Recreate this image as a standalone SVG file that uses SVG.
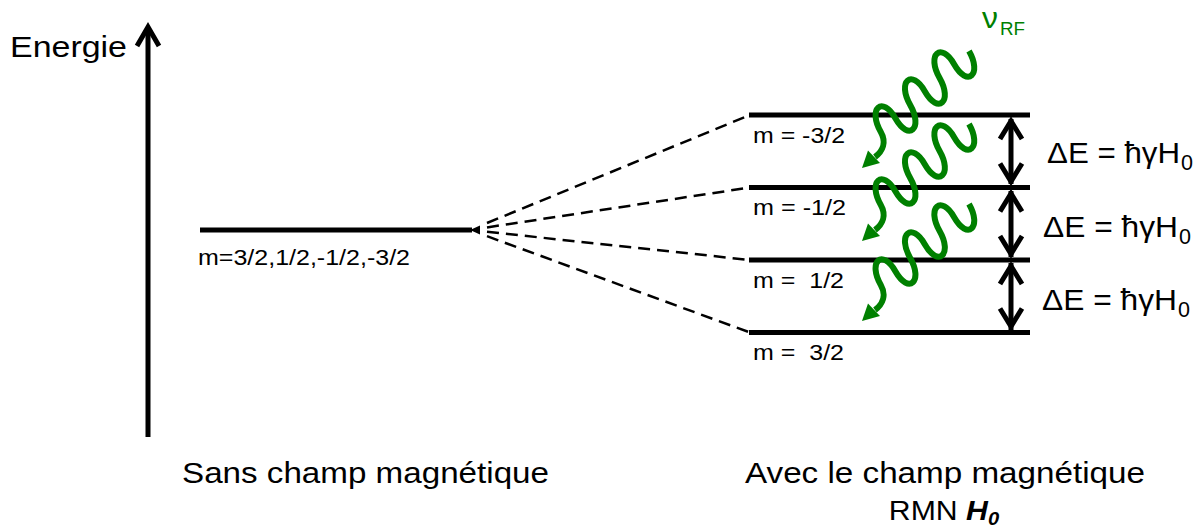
<svg xmlns="http://www.w3.org/2000/svg" width="1198" height="527" viewBox="0 0 1198 527">
<style>
.t{font-family:"Liberation Sans",Arial,sans-serif;fill:#000}
.g{fill:#008000}
.lvl{stroke:#000;stroke-width:5;fill:none}
.dash{stroke:#000;stroke-width:2.5;stroke-dasharray:12 7;fill:none}
.wave{stroke:#008000;stroke-width:6;fill:none}
.chev{stroke:#000;stroke-width:5;fill:none;stroke-linejoin:miter;stroke-miterlimit:10}
</style>
<defs>
<g id="photon">
<path class="wave" d="M969,51 c13.33,23.33 -1.37,36.83 -14.7,13.5 c-13.33,-23.33 -28.03,-9.83 -14.7,13.5 c13.33,23.33 -1.37,36.83 -14.7,13.5 c-13.33,-23.33 -28.03,-9.83 -14.7,13.5 c13.33,23.33 -1.37,36.83 -14.7,13.5 c-13.33,-23.33 -28.03,-9.83 -14.7,13.5 C886.5,142 883,151 875,157"/>
<polygon class="g" points="862,168 880,163 868,150.5"/>
</g>
</defs>
<rect width="1198" height="527" fill="#fff"/>

<g id="axis">
<line class="lvl" x1="148" y1="437" x2="148" y2="28"/>
<polyline class="chev" points="137,46 148,27 159,46"/>
<text class="t" x="10" y="57" font-size="30" textLength="117" lengthAdjust="spacingAndGlyphs">Energie</text>
</g>

<g id="level-degenerate">
<line class="lvl" x1="200" y1="230" x2="472" y2="230"/>
<polygon points="470,230 480,225.5 480,234.5" fill="#000"/>
<text class="t" x="198" y="265" font-size="22" textLength="212" lengthAdjust="spacingAndGlyphs">m=3/2,1/2,-1/2,-3/2</text>
</g>

<g id="level-m-3-2">
<line class="lvl" x1="749" y1="115" x2="1030" y2="115"/>
<text class="t" x="753" y="142.5" font-size="22" textLength="92" lengthAdjust="spacingAndGlyphs" xml:space="preserve">m = -3/2</text>
</g>
<g id="level-m-1-2">
<line class="lvl" x1="749" y1="187.5" x2="1030" y2="187.5"/>
<text class="t" x="753" y="215" font-size="22" textLength="93" lengthAdjust="spacingAndGlyphs" xml:space="preserve">m = -1/2</text>
</g>
<g id="level-m1-2">
<line class="lvl" x1="749" y1="260" x2="1030" y2="260"/>
<text class="t" x="753" y="287.5" font-size="22" textLength="91" lengthAdjust="spacingAndGlyphs" xml:space="preserve">m =  1/2</text>
</g>
<g id="level-m3-2">
<line class="lvl" x1="749" y1="332.5" x2="1030" y2="332.5"/>
<text class="t" x="753" y="359.5" font-size="22" textLength="91" lengthAdjust="spacingAndGlyphs" xml:space="preserve">m =  3/2</text>
</g>

<g id="connectors">
<line class="dash" x1="487" y1="223" x2="750" y2="115"/>
<line class="dash" x1="487" y1="227.4" x2="750" y2="187.5"/>
<line class="dash" x1="487" y1="231.8" x2="750" y2="260"/>
<line class="dash" x1="487" y1="236.2" x2="750" y2="332.5"/>
<line class="lvl" x1="1011" y1="119" x2="1011" y2="184"/>
<polyline class="chev" points="1000,139 1011,121 1022,139"/>
<polyline class="chev" points="1000,163.5 1011,181.5 1022,163.5"/>
<line class="lvl" x1="1011" y1="191" x2="1011" y2="257"/>
<polyline class="chev" points="1000,211.5 1011,193.5 1022,211.5"/>
<polyline class="chev" points="1000,236 1011,254 1022,236"/>
<line class="lvl" x1="1011" y1="263" x2="1011" y2="330"/>
<polyline class="chev" points="1000,284 1011,266 1022,284"/>
<polyline class="chev" points="1000,308.5 1011,326.5 1022,308.5"/>
</g>

<g id="deltaE-1">
<text class="t" x="1047" y="163" font-size="30" textLength="133" lengthAdjust="spacingAndGlyphs">ΔE = ħγH</text>
<text class="t" x="1181" y="170" font-size="22" textLength="12" lengthAdjust="spacingAndGlyphs">0</text>
</g>
<g id="deltaE-2">
<text class="t" x="1043" y="236.5" font-size="30" textLength="135" lengthAdjust="spacingAndGlyphs">ΔE = ħγH</text>
<text class="t" x="1179" y="243.5" font-size="22" textLength="12" lengthAdjust="spacingAndGlyphs">0</text>
</g>
<g id="deltaE-3">
<text class="t" x="1042" y="310" font-size="30" textLength="135" lengthAdjust="spacingAndGlyphs">ΔE = ħγH</text>
<text class="t" x="1178" y="317" font-size="22" textLength="12" lengthAdjust="spacingAndGlyphs">0</text>
</g>

<g id="rf-photons">
<use href="#photon"/>
<use href="#photon" transform="translate(0 73)"/>
<use href="#photon" transform="translate(0 153)"/>
<text class="t g" x="982" y="28" font-size="30" textLength="16" lengthAdjust="spacingAndGlyphs">ν</text>
<text class="t g" x="1000" y="35" font-size="18" textLength="25" lengthAdjust="spacingAndGlyphs">RF</text>
</g>

<g id="caption-left">
<text class="t" x="182" y="483" font-size="29" textLength="367" lengthAdjust="spacingAndGlyphs">Sans champ magnétique</text>
</g>
<g id="caption-right">
<text class="t" x="745" y="483" font-size="29" textLength="400" lengthAdjust="spacingAndGlyphs">Avec le champ magnétique</text>
<text class="t" x="944" y="520" font-size="27" text-anchor="middle" transform="translate(944 0) scale(1.12 1) translate(-944 0)">RMN <tspan font-weight="bold" font-style="italic">H<tspan font-size="18" dy="5">0</tspan></tspan></text>
</g>
</svg>
